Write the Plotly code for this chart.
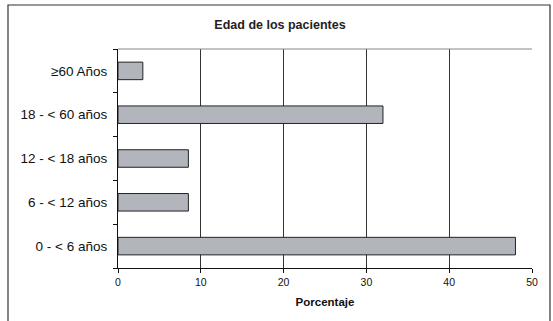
import plotly.graph_objects as go

# Age groups of the patients and their share (%)
categorias = ["0 - < 6 años", "6 - < 12 años", "12 - < 18 años", "18 - < 60 años", "≥60 Años"]
porcentajes = [48, 8.5, 8.5, 32, 3]
ticks_x = [0, 10, 20, 30, 40, 50]

fig = go.Figure(
    go.Bar(
        x=porcentajes,
        y=categorias,
        orientation="h",
        width=0.4,
        marker=dict(color="#B3B5BD", line=dict(color="#222222", width=1)),
        hoverinfo="x+y",
    )
)

fig.update_layout(
    width=553,
    height=321,
    margin=dict(l=118, r=21, t=49, b=53),
    paper_bgcolor="white",
    plot_bgcolor="white",
    showlegend=False,
    font=dict(family="Liberation Sans, Arial, sans-serif", size=11, color="#111111"),
    title=dict(
        text="<b>Edad de los pacientes</b>",
        x=(280 / 553),
        xanchor="center",
        y=1 - 25 / 321,
        yanchor="middle",
        font=dict(size=12.5, color="#222222"),
    ),
    xaxis=dict(
        range=[0, 50],
        tickvals=ticks_x,
        ticks="outside",
        ticklen=4,
        tickcolor="#111111",
        tickfont=dict(size=10.5),
        showgrid=True,
        gridcolor="#333333",
        gridwidth=1,
        showline=True,
        linecolor="#111111",
        linewidth=1,
        zeroline=False,
        title=dict(text="<b>Porcentaje</b>", font=dict(size=11.5), standoff=11),
        fixedrange=True,
    ),
    yaxis=dict(
        type="category",
        categoryorder="array",
        categoryarray=categorias,
        tickson="boundaries",
        ticks="outside",
        ticklen=4,
        tickcolor="#111111",
        showgrid=False,
        showline=True,
        linecolor="#111111",
        linewidth=1,
        ticklabelstandoff=7,
        tickfont=dict(size=13.5),
        fixedrange=True,
    ),
    shapes=[
        # top edge of the plotting area
        dict(type="line", xref="paper", yref="paper", x0=0, x1=1, y0=1, y1=1,
             line=dict(color="#888888", width=1)),
        # frame around the whole chart
        dict(type="rect", xref="paper", yref="paper",
             x0=(8 - 118) / 414, x1=(550 - 118) / 414,
             y0=(268 - 340) / 219, y1=(268 - 5) / 219,
             line=dict(color="#333333", width=1.2)),
    ],
)

fig.write_html("out.html")
